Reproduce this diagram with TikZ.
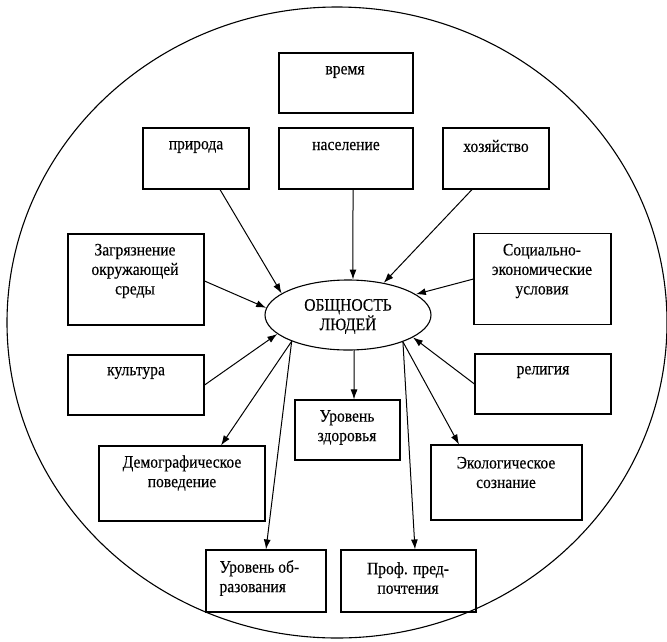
\documentclass[tikz,border=0pt]{standalone}
\usepackage{fontspec}
\setmainfont{Liberation Serif}[FakeStretch=0.89,FakeBold=0.3]
\usetikzlibrary{shapes.geometric,arrows.meta,calc}
\begin{document}
\begin{tikzpicture}[x=1pt,y=-1pt,
  line width=1.1pt,
  box/.style={draw,rectangle,inner sep=0pt},
  txt/.style={font=\fontsize{17.5}{19.5}\selectfont,align=center,inner sep=0pt},
  core/.style={draw,ellipse,inner sep=0pt,minimum width=166pt,minimum height=70pt},
  arr/.style={-{Latex[length=10pt,width=7pt]},line width=1pt}]
\useasboundingbox (0,0) rectangle (667,641);
\draw (337,322.5) ellipse [x radius=330, y radius=315.5];
% boxes
\node[box,minimum width=134pt,minimum height=60pt] (vremya) at (346,83) {};
\node[box,minimum width=106pt,minimum height=61pt] (priroda) at (196,158.5) {};
\node[box,minimum width=134pt,minimum height=61pt] (naselenie) at (346,158.5) {};
\node[box,minimum width=106pt,minimum height=61pt] (hozyaistvo) at (496,158.5) {};
\node[box,minimum width=136pt,minimum height=91pt] (zagr) at (136,279.5) {};
\node[box,minimum width=137pt,minimum height=91pt] (soc) at (542.5,279) {};
\node[box,minimum width=136pt,minimum height=60pt] (kult) at (136,385) {};
\node[box,minimum width=136pt,minimum height=60pt] (relig) at (543,384) {};
\node[box,minimum width=105pt,minimum height=60pt] (zdor) at (347.5,430) {};
\node[box,minimum width=166pt,minimum height=75pt] (demo) at (182,483.5) {};
\node[box,minimum width=151pt,minimum height=75pt] (ekol) at (506.5,482.5) {};
\node[box,minimum width=120pt,minimum height=62pt] (obraz) at (266,581) {};
\node[box,minimum width=135pt,minimum height=62pt] (prof) at (408.5,581) {};
\node[core] (obsh) at (348,315) {};
% texts
\node[txt] at (345,72) {время};
\node[txt] at (196,147) {природа};
\node[txt] at (346,146) {население};
\node[txt] at (496,146) {хозяйство};
\node[txt] at (135,271) {Загрязнение\\окружающей\\среды};
\node[txt] at (542,271) {Социально-\\экономические\\условия};
\node[txt] at (348,316.5) {ОБЩНОСТЬ\\ЛЮДЕЙ};
\node[txt] at (136,373) {культура};
\node[txt] at (543,372) {религия};
\node[txt] at (347,427.5) {Уровень\\здоровья};
\node[txt] at (182,473) {Демографическое\\поведение};
\node[txt] at (506,472.5) {Экологическое\\сознание};
\node[txt,align=left,anchor=west] at (219,578) {Уровень об-\\разования};
\node[txt] at (408,578) {Проф. пред-\\почтения};
% connectors in
\draw[arr] ($(priroda.south)+(24,0)$) -- (obsh.162);
\draw[arr] ($(naselenie.south)+(7,0)$) -- (obsh.82);
\draw[arr] ($(hozyaistvo.south)+(-24,0)$) -- (obsh.42);
\draw[arr] ($(zagr.east)+(0,1.5)$) -- (obsh.175);
\draw[arr] (soc.west) -- (obsh.17);
\draw[arr] (kult.east) -- (obsh.195);
\draw[arr] (relig.west) -- (obsh.-19);
% connectors out
\draw[arr] (obsh.-80) -- ($(zdor.north)+(6.5,0)$);
\draw[arr] (obsh.205) -- ($(demo.north)+(39,0)$);
\draw[arr] (obsh.205) -- (obraz.north);
\draw[arr] (obsh.-26) -- ($(ekol.north)+(-47.5,0)$);
\draw[arr] (obsh.-26) -- ($(prof.north)+(6.5,0)$);
\end{tikzpicture}
\end{document}
